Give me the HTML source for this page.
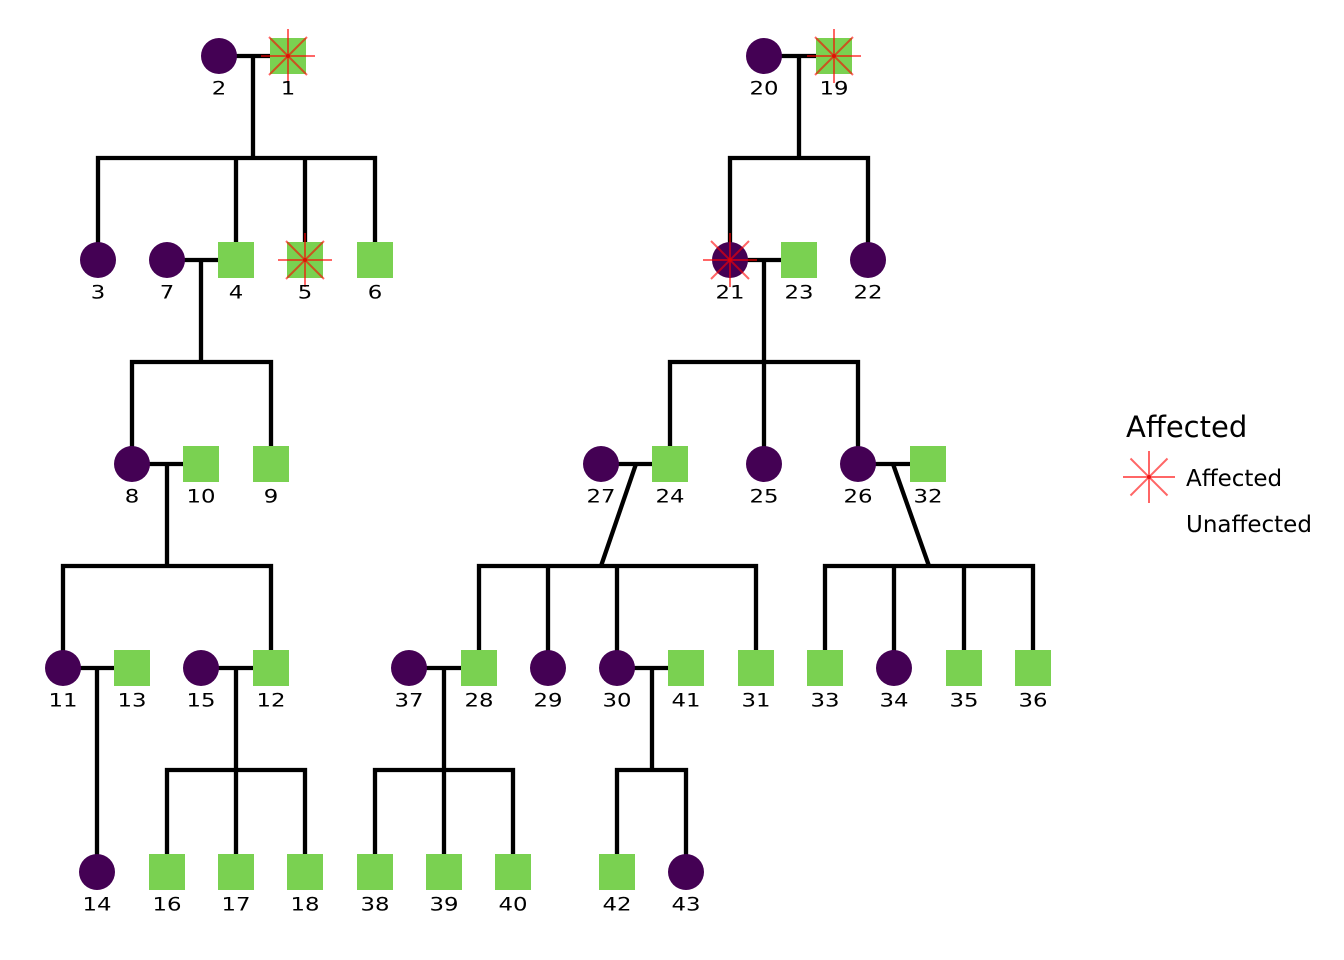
<!DOCTYPE html>
<html>
<head>
<meta charset="utf-8">
<style>
html,body{margin:0;padding:0;background:#fff;}
svg{display:block;}
</style>
</head>
<body>
<svg width="1344" height="960" viewBox="0 0 1344 960" xmlns="http://www.w3.org/2000/svg">
<rect width="1344" height="960" fill="#fff"/>
<g fill="none" stroke="#000" stroke-width="4.3" stroke-linejoin="miter" stroke-linecap="butt">
  <path d="M219,56 H288"/>
  <path d="M253,56 V158"/>
  <path d="M98,260 V158 H375 V260"/>
  <path d="M236,158 V260"/>
  <path d="M305,158 V260"/>
  <path d="M167,260 H236"/>
  <path d="M201,260 V362"/>
  <path d="M132,464 V362 H271 V464"/>
  <path d="M132,464 H201"/>
  <path d="M167,464 V566"/>
  <path d="M63,668 V566 H271 V668"/>
  <path d="M63,668 H132"/>
  <path d="M97,668 V872"/>
  <path d="M201,668 H271"/>
  <path d="M236,668 V770"/>
  <path d="M167,872 V770 H305 V872"/>
  <path d="M236,770 V872"/>
  <path d="M764,56 H834"/>
  <path d="M799,56 V158"/>
  <path d="M730,260 V158 H868 V260"/>
  <path d="M730,260 H799"/>
  <path d="M764,260 V362"/>
  <path d="M670,464 V362 H858 V464"/>
  <path d="M764,362 V464"/>
  <path d="M601,464 H670"/>
  <path d="M636,464 L601,566"/>
  <path d="M479,668 V566 H756 V668"/>
  <path d="M548,566 V668"/>
  <path d="M617,566 V668"/>
  <path d="M858,464 H928"/>
  <path d="M893,464 L929,566"/>
  <path d="M825,668 V566 H1033 V668"/>
  <path d="M894,566 V668"/>
  <path d="M964,566 V668"/>
  <path d="M409,668 H479"/>
  <path d="M444,668 V770"/>
  <path d="M375,872 V770 H513 V872"/>
  <path d="M444,770 V872"/>
  <path d="M617,668 H686"/>
  <path d="M652,668 V770"/>
  <path d="M617,872 V770 H686 V872"/>
</g>

<g fill="#440154">
  <circle cx="219" cy="56" r="18"/>
  <circle cx="764" cy="56" r="18"/>
  <circle cx="98" cy="260" r="18"/>
  <circle cx="167" cy="260" r="18"/>
  <circle cx="730" cy="260" r="18"/>
  <circle cx="868" cy="260" r="18"/>
  <circle cx="132" cy="464" r="18"/>
  <circle cx="601" cy="464" r="18"/>
  <circle cx="764" cy="464" r="18"/>
  <circle cx="858" cy="464" r="18"/>
  <circle cx="63" cy="668" r="18"/>
  <circle cx="201" cy="668" r="18"/>
  <circle cx="409" cy="668" r="18"/>
  <circle cx="548" cy="668" r="18"/>
  <circle cx="617" cy="668" r="18"/>
  <circle cx="894" cy="668" r="18"/>
  <circle cx="97" cy="872" r="18"/>
  <circle cx="686" cy="872" r="18"/>
</g>

<g fill="#7AD151">
  <rect x="270" y="38" width="36" height="36"/>
  <rect x="816" y="38" width="36" height="36"/>
  <rect x="218" y="242" width="36" height="36"/>
  <rect x="287" y="242" width="36" height="36"/>
  <rect x="357" y="242" width="36" height="36"/>
  <rect x="781" y="242" width="36" height="36"/>
  <rect x="183" y="446" width="36" height="36"/>
  <rect x="253" y="446" width="36" height="36"/>
  <rect x="652" y="446" width="36" height="36"/>
  <rect x="910" y="446" width="36" height="36"/>
  <rect x="114" y="650" width="36" height="36"/>
  <rect x="253" y="650" width="36" height="36"/>
  <rect x="461" y="650" width="36" height="36"/>
  <rect x="668" y="650" width="36" height="36"/>
  <rect x="738" y="650" width="36" height="36"/>
  <rect x="807" y="650" width="36" height="36"/>
  <rect x="946" y="650" width="36" height="36"/>
  <rect x="1015" y="650" width="36" height="36"/>
  <rect x="149" y="854" width="36" height="36"/>
  <rect x="218" y="854" width="36" height="36"/>
  <rect x="287" y="854" width="36" height="36"/>
  <rect x="357" y="854" width="36" height="36"/>
  <rect x="426" y="854" width="36" height="36"/>
  <rect x="495" y="854" width="36" height="36"/>
  <rect x="599" y="854" width="36" height="36"/>
</g>

<g stroke="rgba(255,0,0,0.6)" stroke-width="2" fill="none">
  <path transform="translate(288,56)" d="M-27,0H27M0,-27V27M-19,-19L19,19M-19,19L19,-19"/>
  <path transform="translate(834,56)" d="M-27,0H27M0,-27V27M-19,-19L19,19M-19,19L19,-19"/>
  <path transform="translate(305,260)" d="M-27,0H27M0,-27V27M-19,-19L19,19M-19,19L19,-19"/>
  <path transform="translate(730,260)" d="M-27,0H27M0,-27V27M-19,-19L19,19M-19,19L19,-19"/>
  <path transform="translate(1149,477)" d="M-26,0H26M0,-26V26M-18.5,-18.5L18.5,18.5M-18.5,18.5L18.5,-18.5"/>
</g>
<g fill="rgba(230,0,0,0.8)">
  <circle cx="288" cy="56" r="2"/>
  <circle cx="834" cy="56" r="2"/>
  <circle cx="305" cy="260" r="2"/>
  <circle cx="730" cy="260" r="2"/>
  <circle cx="1149" cy="477" r="2"/>
</g>

<g transform="scale(1.2,1)" font-family="'DejaVu Sans', 'Liberation Sans', sans-serif" font-size="19" fill="#000" text-anchor="middle">
  <text x="182.5" y="94.5">2</text>
  <text x="240" y="94.5">1</text>
  <text x="636.67" y="94.5">20</text>
  <text x="695" y="94.5">19</text>
  <text x="81.67" y="298.5">3</text>
  <text x="139.17" y="298.5">7</text>
  <text x="196.67" y="298.5">4</text>
  <text x="254.17" y="298.5">5</text>
  <text x="312.5" y="298.5">6</text>
  <text x="608.33" y="298.5">21</text>
  <text x="665.83" y="298.5">23</text>
  <text x="723.33" y="298.5">22</text>
  <text x="110" y="502.5">8</text>
  <text x="167.5" y="502.5">10</text>
  <text x="225.83" y="502.5">9</text>
  <text x="500.83" y="502.5">27</text>
  <text x="558.33" y="502.5">24</text>
  <text x="636.67" y="502.5">25</text>
  <text x="715" y="502.5">26</text>
  <text x="773.33" y="502.5">32</text>
  <text x="52.5" y="706.5">11</text>
  <text x="110" y="706.5">13</text>
  <text x="167.5" y="706.5">15</text>
  <text x="225.83" y="706.5">12</text>
  <text x="340.83" y="706.5">37</text>
  <text x="399.17" y="706.5">28</text>
  <text x="456.67" y="706.5">29</text>
  <text x="514.17" y="706.5">30</text>
  <text x="571.67" y="706.5">41</text>
  <text x="630" y="706.5">31</text>
  <text x="687.5" y="706.5">33</text>
  <text x="745" y="706.5">34</text>
  <text x="803.33" y="706.5">35</text>
  <text x="860.83" y="706.5">36</text>
  <text x="80.83" y="910.5">14</text>
  <text x="139.17" y="910.5">16</text>
  <text x="196.67" y="910.5">17</text>
  <text x="254.17" y="910.5">18</text>
  <text x="312.5" y="910.5">38</text>
  <text x="370" y="910.5">39</text>
  <text x="427.5" y="910.5">40</text>
  <text x="514.17" y="910.5">42</text>
  <text x="571.67" y="910.5">43</text>
</g>

<g font-family="'DejaVu Sans', 'Liberation Sans', sans-serif" fill="#000">
  <text x="1126" y="437" font-size="29">Affected</text>
  <text x="1186" y="486" font-size="23">Affected</text>
  <text x="1186" y="532" font-size="23">Unaffected</text>
</g>
</svg>
</body>
</html>
